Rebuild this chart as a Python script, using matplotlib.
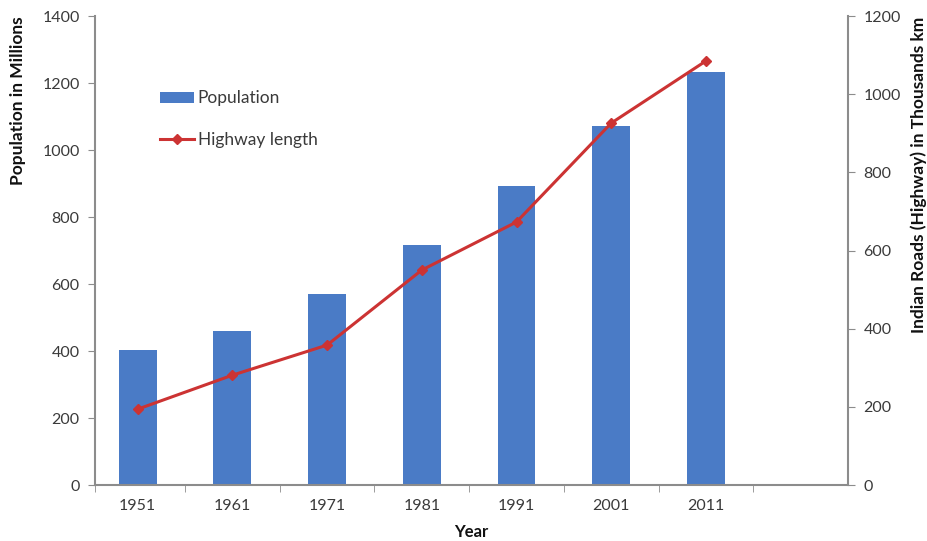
import numpy as np
import matplotlib.pyplot as plt
from matplotlib.lines import Line2D
from matplotlib.patches import Patch

# Data
years = ['1951', '1961', '1971', '1981', '1991', '2001', '2011']
population = [402, 460, 570, 715, 893, 1073, 1232]      # millions
highway = [194, 281, 358, 550, 673, 926, 1085]          # thousand km

bar_color = '#4a7bc6'
line_color = '#cc3333'
axis_color = '#8c8c8c'
text_color = '#3a3a3a'

plt.rc('font', family=['Lato', 'DejaVu Sans'], size=11)

fig = plt.figure(figsize=(9.27, 5.41), dpi=100)
ax = fig.add_axes([0.1025, 0.1035, 0.8123, 0.8669])
ax2 = ax.twinx()

x = np.arange(len(years))
ax.bar(x, population, width=0.4, color=bar_color, zorder=2)
ax2.plot(x, highway, color=line_color, lw=2.2, marker='D', ms=5,
         markerfacecolor=line_color, markeredgecolor=line_color, zorder=3)

ax.set_xlim(-0.45, 7.5)
ax.set_ylim(0, 1400)
ax2.set_ylim(0, 1200)
ax.set_yticks(np.arange(0, 1401, 200))
ax2.set_yticks(np.arange(0, 1201, 200))
ax.set_xticks(x)
ax.set_xticklabels(years)
ax.set_xticks(list(np.arange(0.5, 7.0, 1.0)) + [-0.45], minor=True)
ax.tick_params(axis='x', which='major', length=0, pad=10, colors=text_color,
               labelsize=11.5)
ax.tick_params(axis='x', which='minor', length=5, color=axis_color,
               direction='out')
ax.tick_params(axis='y', length=5, color=axis_color, labelcolor=text_color,
               labelsize=11.5, pad=6)
ax2.tick_params(axis='y', length=5, color=axis_color, labelcolor=text_color,
                labelsize=11.5, pad=6)

for a in (ax, ax2):
    a.spines['top'].set_visible(False)
    for s in ('left', 'right', 'bottom'):
        a.spines[s].set_color(axis_color)
        a.spines[s].set_linewidth(1.5)
ax.spines['right'].set_visible(False)
ax2.spines['left'].set_visible(False)
ax2.spines['bottom'].set_visible(False)

ax.set_xlabel('Year', fontweight='bold', fontsize=12, color='#111111',
              labelpad=8)
# axis titles sit near the top, as in the original Excel chart
fig.text(18 / 927, 1 - 16 / 541, 'Population in Millions', rotation=90,
         ha='center', va='top', fontweight='bold', fontsize=12.5,
         color='#111111')
fig.text(919 / 927, 1 - 17 / 541, 'Indian Roads (Highway) in Thousands km',
         rotation=90, ha='center', va='top', fontweight='bold',
         fontsize=12.5, color='#111111')

handles = [Patch(facecolor=bar_color, label='Population'),
           Line2D([0], [0], color=line_color, lw=2.2, marker='D', ms=5,
                  label='Highway length')]
leg = ax2.legend(handles=handles, loc='upper left',
                 bbox_to_anchor=(0.065, 0.875), frameon=False, fontsize=12.5,
                 handlelength=2.0, handleheight=0.6, handletextpad=0.2,
                 labelspacing=1.5, labelcolor=text_color)

fig.savefig('out.png', dpi=100)
